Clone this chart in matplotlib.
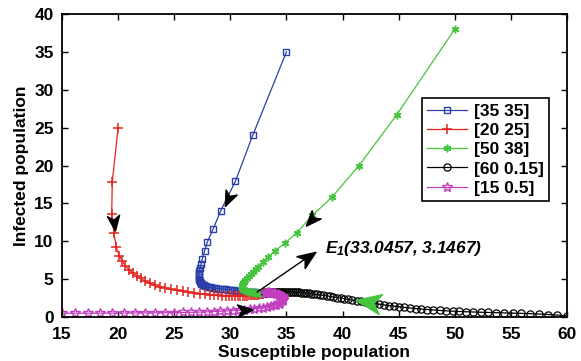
import numpy as np
import matplotlib
matplotlib.use("Agg")
import matplotlib.pyplot as plt
from matplotlib.path import Path
from matplotlib.markers import MarkerStyle
from matplotlib.transforms import Affine2D

plt.rcParams["font.family"] = ["Liberation Sans", "DejaVu Sans"]
plt.rcParams["font.weight"] = "bold"
plt.rcParams["mathtext.fontset"] = "custom"
plt.rcParams["mathtext.it"] = "Liberation Sans:bold:italic"
plt.rcParams["mathtext.rm"] = "Liberation Sans:bold:italic"

# trajectories (S, I) for each initial condition
S_35 = [35.0, 32.0, 30.45, 29.15, 28.46, 27.95, 27.7, 27.5, 27.39, 27.3,
        27.25, 27.22, 27.2, 27.2, 27.21, 27.23, 27.26, 27.3, 27.35, 27.41,
        27.48, 27.56, 27.65, 27.75, 27.86, 27.98, 28.11, 28.25, 28.4, 28.56,
        28.73, 28.9, 29.08, 29.26, 29.44, 29.62, 29.8, 29.98, 30.16, 30.34,
        30.52, 30.7, 30.87, 31.04, 31.2, 31.36, 31.51, 31.66, 31.8, 31.94,
        32.07, 32.2, 32.32, 32.44, 32.55, 32.65, 32.74, 32.82, 32.89, 32.95,
        33.0, 33.0457]
I_35 = [35.0, 24.0, 17.9, 14.05, 11.6, 9.9, 8.7, 7.7, 7.0, 6.43,
        6.05, 5.75, 5.5, 5.28, 5.08, 4.9, 4.75, 4.62, 4.5, 4.4,
        4.31, 4.23, 4.16, 4.1, 4.04, 3.99, 3.95, 3.91, 3.87, 3.83,
        3.79, 3.76, 3.73, 3.7, 3.67, 3.64, 3.61, 3.58, 3.55, 3.52,
        3.49, 3.46, 3.43, 3.41, 3.38, 3.36, 3.34, 3.32, 3.3, 3.28,
        3.26, 3.24, 3.23, 3.21, 3.2, 3.19, 3.18, 3.17, 3.16, 3.16,
        3.15, 3.1467]

S_20 = [20.0, 19.48, 19.43, 19.63, 19.85, 20.1, 20.37, 20.64, 21.0, 21.35,
        21.66, 22.0, 22.4, 22.84, 23.29, 23.73, 24.2, 24.69, 25.22, 25.76,
        26.26, 26.8, 27.3, 27.75, 28.17, 28.56, 28.92, 29.26, 29.58, 29.88,
        30.16, 30.42, 30.66, 30.89, 31.1, 31.3, 31.48, 31.65, 31.81, 31.96,
        32.1, 32.23, 32.35, 32.46, 32.56, 32.65, 32.73, 32.8, 32.87, 32.93,
        32.98, 33.02, 33.0457]
I_20 = [25.0, 17.8, 13.6, 11.05, 9.2, 8.1, 7.4, 6.74, 6.2, 5.77,
        5.42, 5.1, 4.75, 4.45, 4.19, 4.0, 3.83, 3.66, 3.52, 3.4,
        3.26, 3.17, 3.08, 3.0, 2.94, 2.89, 2.85, 2.82, 2.8, 2.79,
        2.78, 2.78, 2.78, 2.79, 2.8, 2.81, 2.83, 2.85, 2.87, 2.89,
        2.91, 2.93, 2.95, 2.97, 2.99, 3.01, 3.03, 3.05, 3.07, 3.09,
        3.11, 3.13, 3.1467]

S_50 = [50.0, 44.83, 41.47, 39.04, 37.3, 35.95, 34.87, 34.0, 33.39, 32.88,
        32.5, 32.25, 32.02, 31.81, 31.62, 31.45, 31.3, 31.18, 31.09, 31.03,
        31.0, 31.0, 31.03, 31.09, 31.17, 31.27, 31.38, 31.5, 31.63, 31.76,
        31.9, 32.04, 32.18, 32.31, 32.44, 32.56, 32.67, 32.77, 32.86, 32.94,
        33.0, 33.0457]
I_50 = [38.0, 26.7, 20.0, 15.8, 13.4, 11.15, 9.75, 8.76, 7.97, 7.22,
        6.65, 6.28, 5.94, 5.63, 5.35, 5.09, 4.85, 4.63, 4.43, 4.25,
        4.09, 3.95, 3.83, 3.72, 3.62, 3.54, 3.47, 3.41, 3.36, 3.31,
        3.27, 3.24, 3.21, 3.19, 3.17, 3.16, 3.15, 3.14, 3.14, 3.14,
        3.145, 3.1467]

S_60 = [60.0, 59.15, 58.32, 57.5, 56.7, 55.92, 55.16, 54.42, 53.7, 53.0, 52.32, 51.66,
        51.02, 50.4, 49.8, 49.21, 48.64, 48.08, 47.54, 47.01, 46.5, 46.0, 45.51, 45.03,
        44.57, 44.12, 43.68, 43.25, 42.83, 42.42, 42.02, 41.63, 41.25, 40.88, 40.52, 40.17,
        39.83, 39.5, 39.18, 38.87, 38.57, 38.28, 38.0, 37.73, 37.47, 37.22, 36.98, 36.75,
        36.53, 36.32, 36.12, 35.92, 35.73, 35.55, 35.37, 35.2, 35.03, 34.87, 34.71, 34.56,
        34.41, 34.27, 34.13, 34.0, 33.87, 33.75, 33.63, 33.52, 33.41, 33.31, 33.21, 33.12,
        33.0457]
I_60 = [0.15, 0.25, 0.33, 0.39, 0.44, 0.48, 0.51, 0.54, 0.57, 0.6, 0.63, 0.66,
        0.69, 0.73, 0.77, 0.82, 0.87, 0.93, 0.99, 1.05, 1.12, 1.19, 1.27, 1.35,
        1.43, 1.51, 1.6, 1.69, 1.78, 1.87, 1.96, 2.05, 2.14, 2.23, 2.32, 2.41,
        2.49, 2.57, 2.65, 2.72, 2.79, 2.86, 2.92, 2.98, 3.03, 3.08, 3.12, 3.16,
        3.2, 3.23, 3.26, 3.28, 3.3, 3.32, 3.33, 3.34, 3.35, 3.35, 3.35, 3.35,
        3.34, 3.33, 3.32, 3.31, 3.29, 3.27, 3.25, 3.23, 3.21, 3.19, 3.17, 3.16,
        3.1467]

S_15 = [15.0, 16.13, 17.32, 18.42, 19.46, 20.5, 21.48, 22.43, 23.32, 24.21,
        25.01, 25.78, 26.52, 27.23, 27.88, 28.53, 29.12, 29.71, 30.24, 30.77,
        31.24, 31.71, 32.15, 32.55, 32.92, 33.27, 33.58, 33.86, 34.1, 34.3,
        34.46, 34.58, 34.66, 34.71, 34.72, 34.7, 34.65, 34.57, 34.47, 34.36,
        34.24, 34.11, 33.98, 33.85, 33.72, 33.6, 33.49, 33.39, 33.3, 33.22,
        33.15, 33.09, 33.0457]
I_15 = [0.5, 0.5, 0.5, 0.51, 0.51, 0.52, 0.53, 0.54, 0.55, 0.56,
        0.58, 0.6, 0.62, 0.65, 0.68, 0.72, 0.76, 0.8, 0.85, 0.9,
        0.96, 1.02, 1.08, 1.15, 1.23, 1.32, 1.42, 1.53, 1.65, 1.78,
        1.91, 2.05, 2.19, 2.33, 2.46, 2.58, 2.69, 2.79, 2.88, 2.96,
        3.03, 3.09, 3.14, 3.18, 3.21, 3.23, 3.24, 3.24, 3.23, 3.21,
        3.19, 3.17, 3.1467]

labels = ["[35 35]", "[20 25]", "[50 38]", "[60 0.15]", "[15 0.5]"]
E1 = (33.0457, 3.1467)

# direction heads drawn on the trajectories: (centre, point behind it, colour, size)
heads = [((19.6, 12.4), (19.48, 13.8), "black", 11),
         ((29.75, 15.6), (30.45, 17.9), "black", 11),
         ((37.2, 12.8), (39.04, 15.8), "black", 11),
         ((42.3, 2.0), (44.3, 1.5), "#44c43c", 18),
         ((31.3, 0.97), (30.3, 0.86), "black", 11)]
arrow_tail = (32.4, 3.3)
arrow_tip = (36.9, 7.9)

fig = plt.figure(figsize=(5.81, 3.61), dpi=100)
ax = fig.add_axes([62 / 581, 44 / 361, 505 / 581, 303 / 361])

ax.plot(S_35, I_35, color="#2b3fa8", lw=0.9, marker="s", ms=4.2, mfc="none", mew=1.0, label=labels[0])
ax.plot(S_20, I_20, color="#e3251f", lw=0.9, marker="+", ms=6.5, mew=1.1, label=labels[1])
ax.plot(S_50, I_50, color="#44c43c", lw=0.9, marker=(6, 2, 0), ms=5.5, mew=1.1, label=labels[2])
ax.plot(S_60, I_60, color="black", lw=0.9, marker="o", ms=5.2, mfc="none", mew=0.9, label=labels[3])
ax.plot(S_15, I_15, color="#c13fbf", lw=0.9, marker="*", ms=7, mfc="none", mew=1.0, label=labels[4])

ax.set_xlim(15, 60)
ax.set_ylim(0, 40)
ax.set_xticks(np.arange(15, 61, 5))
ax.set_yticks(np.arange(0, 41, 5))
ax.tick_params(direction="in", top=True, right=True, length=4, width=1, labelsize=12.5)
ax.tick_params(axis="x", pad=7)
ax.tick_params(axis="y", pad=6)
for s in ax.spines.values():
    s.set_linewidth(1.3)
ax.set_xlabel("Susceptible population", fontsize=12.5, fontweight="bold", labelpad=2)
ax.set_ylabel("Infected population", fontsize=12.5, fontweight="bold", labelpad=4)

# concave arrow head
head_path = Path([(1, 0), (-1, 0.8), (-0.45, 0), (-1, -0.8), (1, 0)],
                 [Path.MOVETO, Path.LINETO, Path.LINETO, Path.LINETO, Path.CLOSEPOLY])


def draw_head(centre, back, color, size):
    p1 = ax.transData.transform(centre)
    p0 = ax.transData.transform(back)
    ang = np.degrees(np.arctan2(p1[1] - p0[1], p1[0] - p0[0]))
    m = MarkerStyle(head_path, transform=Affine2D().rotate_deg(ang))
    ax.plot([centre[0]], [centre[1]], marker=m, ms=size, color=color, mec=color, ls="none", zorder=5)


for c, b, col, sz in heads:
    draw_head(c, b, col, sz)

ax.plot([arrow_tail[0], arrow_tip[0]], [arrow_tail[1], arrow_tip[1]], color="black", lw=1.0, zorder=5)
draw_head(arrow_tip, arrow_tail, "black", 13)
ax.text(38.4, 9.0, r"$E_1$(33.0457, 3.1467)", fontsize=12.5, fontweight="bold", style="italic",
        va="center", ha="left")

leg = ax.legend(loc="upper left", bbox_to_anchor=(0.713, 0.722), fontsize=12.5, fancybox=False,
                edgecolor="black", framealpha=1, handlelength=2.3, borderpad=0.3,
                labelspacing=0.24, handletextpad=0.4, borderaxespad=0)
leg.get_frame().set_linewidth(1.2)

fig.savefig("out.png", dpi=100)
